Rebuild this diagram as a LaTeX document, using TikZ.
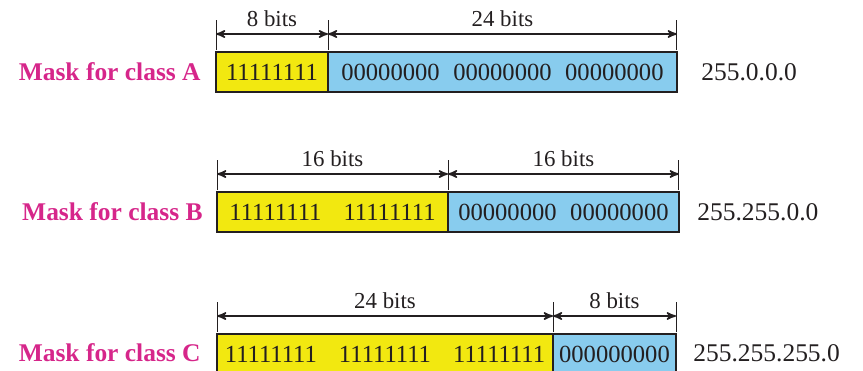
\documentclass[tikz,border=0pt]{standalone}
\usepackage{fontspec}
\setmainfont{Liberation Serif}
\usetikzlibrary{arrows,positioning}

\definecolor{maskyellow}{RGB}{242,232,16}
\definecolor{maskblue}{RGB}{136,204,238}
\definecolor{maskpink}{RGB}{214,38,138}
\definecolor{inkgray}{RGB}{35,31,32}

\newcommand{\onesgap}{\hspace{0.9em}}
\newcommand{\zerosgap}{\hspace{0.55em}}

\begin{document}
\begin{tikzpicture}[x=0.02cm, y=-0.02cm]
\tikzstyle{field}=[draw=inkgray, line width=0.8pt, outer sep=0pt, inner sep=0pt,
  minimum height=0.8cm, text=inkgray, font=\fontsize{14}{16}\selectfont]
\tikzstyle{ones}=[field, fill=maskyellow]
\tikzstyle{zeros}=[field, fill=maskblue]
\tikzstyle{mask}=[anchor=east, inner sep=0pt, text=maskpink, font=\fontsize{14.5}{16}\selectfont\bfseries]
\tikzstyle{addr}=[anchor=west, inner sep=0pt, text=inkgray, font=\fontsize{14.5}{16}\selectfont]
\tikzstyle{tick}=[draw=inkgray, line width=0.5pt]
\tikzstyle{dim}=[draw=inkgray, line width=0.9pt, <->, >=stealth']
\tikzstyle{bits}=[above, inner sep=3.5pt, text=inkgray, font=\fontsize{13}{15}\selectfont]

\useasboundingbox (0,0) rectangle (863,371);

% Class A
\node at (201,72) [mask] (maskA) {Mask for class A};
\node at (272,72) [ones, minimum width=2.24cm] (netA) {11111111};
\node [zeros, minimum width=6.98cm, right=0cm of netA] (hostA)
  {00000000\zerosgap 00000000\zerosgap 00000000};
\node at (701,72) [addr] (addrA) {255.0.0.0};
\foreach \c in {netA.north west, netA.north east, hostA.north east}
\draw [tick] ([yshift=0.04cm]\c) -- ([yshift=0.64cm]\c);
\draw [dim] ([yshift=0.36cm]netA.north west) -- node[bits] {8 bits} ([yshift=0.36cm]netA.north east);
\draw [dim] ([yshift=0.36cm]hostA.north west) -- node[bits] {24 bits} ([yshift=0.36cm]hostA.north east);

% Class B
\node at (203,212) [mask] (maskB) {Mask for class B};
\node at (332.5,212) [ones, minimum width=4.62cm] (netB) {11111111\onesgap 11111111};
\node [zeros, minimum width=4.62cm, right=0cm of netB] (hostB)
  {00000000\zerosgap 00000000};
\node at (697,212) [addr] (addrB) {255.255.0.0};
\foreach \c in {netB.north west, netB.north east, hostB.north east}
\draw [tick] ([yshift=0.04cm]\c) -- ([yshift=0.64cm]\c);
\draw [dim] ([yshift=0.36cm]netB.north west) -- node[bits] {16 bits} ([yshift=0.36cm]netB.north east);
\draw [dim] ([yshift=0.36cm]hostB.north west) -- node[bits] {16 bits} ([yshift=0.36cm]hostB.north east);

% Class C
\node at (201,353) [mask] (maskC) {Mask for class C};
\node at (385,354) [ones, minimum width=6.72cm] (netC)
  {11111111\onesgap 11111111\onesgap 11111111};
\node [zeros, minimum width=2.46cm, right=0cm of netC] (hostC) {000000000};
\node at (693,353) [addr] (addrC) {255.255.255.0};
\foreach \c in {netC.north west, netC.north east, hostC.north east}
\draw [tick] ([yshift=0.04cm]\c) -- ([yshift=0.64cm]\c);
\draw [dim] ([yshift=0.36cm]netC.north west) -- node[bits] {24 bits} ([yshift=0.36cm]netC.north east);
\draw [dim] ([yshift=0.36cm]hostC.north west) -- node[bits] {8 bits} ([yshift=0.36cm]hostC.north east);
\end{tikzpicture}
\end{document}
